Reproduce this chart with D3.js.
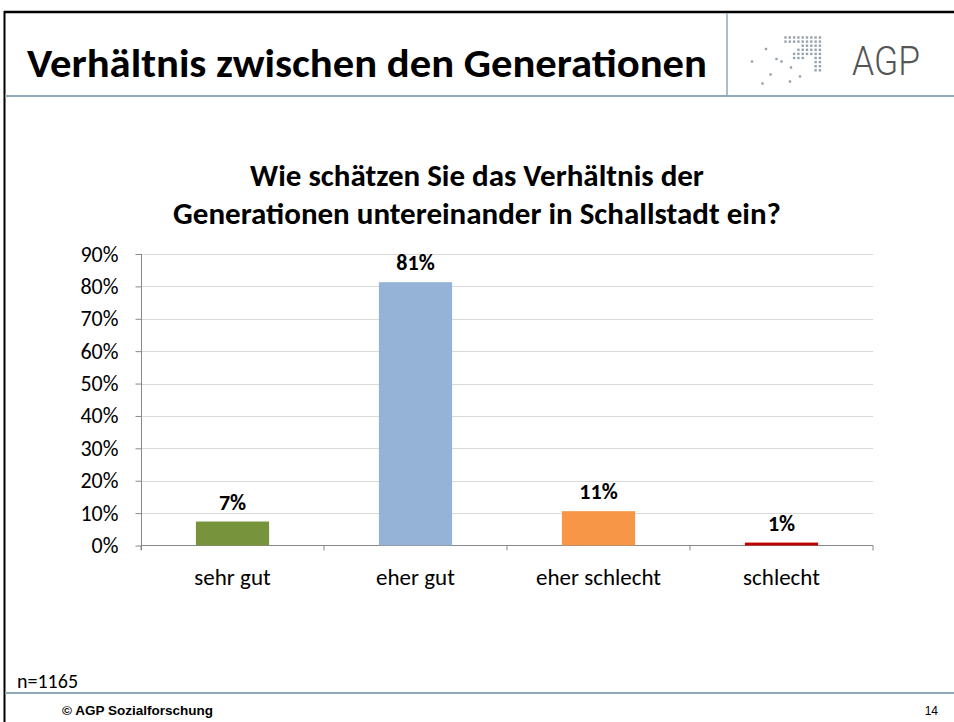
<!DOCTYPE html>
<html>
<head>
<meta charset="utf-8">
<script src="https://cdn.jsdelivr.net/npm/d3@7"></script>
<style>
  body { margin: 0; background: #fff; }
  svg { display: block; }
  .cal { font-family: Carlito, Calibri, Lato, sans-serif; }
</style>
</head>
<body>
<svg id="slide" width="954" height="722"></svg>
<script>
// chart data
var categories = ["sehr gut", "eher gut", "eher schlecht", "schlecht"];
var values = [7.4, 81.3, 10.6, 0.9];
var barColors = ["#77933C", "#95B3D7", "#F79646", "#C00000"];
var yTicks = [0, 10, 20, 30, 40, 50, 60, 70, 80, 90];

var slideTitle = "Verhältnis zwischen den Generationen";
var chartTitle = ["Wie schätzen Sie das Verhältnis der", "Generationen untereinander in Schallstadt ein?"];
var sampleNote = "n=1165";
var footerText = "© AGP Sozialforschung";
var pageNo = "14";

var svg = d3.select("#slide");

// --- slide frame ---
svg.append("line").attr("x1", 4).attr("x2", 954).attr("y1", 12).attr("y2", 12)
  .attr("stroke", "#000").attr("stroke-width", 2.5);
svg.append("line").attr("x1", 4.5).attr("x2", 4.5).attr("y1", 11).attr("y2", 722)
  .attr("stroke", "#000").attr("stroke-width", 2);
svg.append("line").attr("x1", 5).attr("x2", 954).attr("y1", 96).attr("y2", 96)
  .attr("stroke", "#8EA9BC").attr("stroke-width", 2);
svg.append("line").attr("x1", 727).attr("x2", 727).attr("y1", 13).attr("y2", 96)
  .attr("stroke", "#8EA9BC").attr("stroke-width", 1.5);
svg.append("line").attr("x1", 5).attr("x2", 954).attr("y1", 693).attr("y2", 693)
  .attr("stroke", "#8EA9BC").attr("stroke-width", 2);

svg.append("text").attr("class", "cal")
  .attr("x", 27).attr("y", 77)
  .attr("font-size", 40).attr("font-weight", "bold")
  .attr("textLength", 680).attr("lengthAdjust", "spacingAndGlyphs")
  .text(slideTitle);

// logo: dot grid + loose dots + AGP
var logoRows = ["111111111", "111111111", "000011111", "000111111", "001111111",
                "001110011", "000000011", "000000011", "000000011"];
var dots = [];
logoRows.forEach(function(row, r) {
  row.split("").forEach(function(ch, c) {
    if (ch === "1") dots.push([785.5 + c * 4.3, 37.5 + r * 4.1]);
  });
});
var loose = [[766, 49], [752, 61.5], [776.5, 59], [781.5, 61.5], [791, 67.5],
             [770.5, 74.5], [800, 76.5], [790, 81.5], [762.5, 83.5]];
svg.append("g").selectAll("rect").data(dots.concat(loose)).enter().append("rect")
  .attr("x", d => d[0] - 1.2).attr("y", d => d[1] - 1.2)
  .attr("width", 2.4).attr("height", 2.4).attr("fill", "#94A3AB");
svg.append("text")
  .attr("x", 852).attr("y", 75)
  .attr("font-family", "Roboto, 'DejaVu Sans', sans-serif")
  .attr("font-weight", 300).attr("font-size", 40).attr("fill", "#555")
  .attr("textLength", 68).attr("lengthAdjust", "spacingAndGlyphs")
  .text("AGP");

// --- chart ---
var x = d3.scaleBand().domain(categories).range([141, 873]).paddingInner(0.6).paddingOuter(0.3);
var xb = d3.scaleBand().domain(categories).range([141, 873]);
var y = d3.scaleLinear().domain([0, 90]).range([545.5, 254]);

svg.selectAll("text.ct").data(chartTitle).enter().append("text")
  .attr("class", "cal")
  .attr("x", 477).attr("y", (d, i) => 186 + i * 38)
  .attr("text-anchor", "middle").attr("font-size", 31).attr("font-weight", "bold")
  .text(d => d);

// gridlines
svg.append("g").selectAll("line").data(yTicks.slice(1)).enter().append("line")
  .attr("x1", 141).attr("x2", 873)
  .attr("y1", d => Math.round(y(d)) + 0.5).attr("y2", d => Math.round(y(d)) + 0.5)
  .attr("stroke", "#D9D9D9");

// y axis
var yAxis = svg.append("g").attr("transform", "translate(141.5,0)")
  .call(d3.axisLeft(y).tickValues(yTicks).tickSize(6).tickPadding(17)
    .tickFormat(d => d + "%"));
yAxis.select(".domain").attr("stroke", "#888").attr("d", "M0,254V550");
yAxis.selectAll(".tick line").attr("stroke", "#888");
yAxis.selectAll("text").attr("class", "cal").attr("font-size", 22).attr("fill", "#000")
  .attr("font-family", null);

// x axis
var xAxis = svg.append("g").attr("transform", "translate(0,545.5)")
  .call(d3.axisBottom(xb).tickSize(0).tickPadding(23));
xAxis.select(".domain").attr("stroke", "#888").attr("d", "M141,0H873");
xAxis.selectAll("text").attr("class", "cal").attr("font-size", 23).attr("fill", "#000")
  .attr("font-family", null);
xAxis.selectAll("line.sep").data(d3.range(categories.length + 1)).enter().append("line")
  .attr("x1", i => 141 + i * xb.bandwidth()).attr("x2", i => 141 + i * xb.bandwidth())
  .attr("y1", 0).attr("y2", 5).attr("stroke", "#888");

// bars
svg.selectAll("rect.bar").data(values).enter().append("rect")
  .attr("class", "bar")
  .attr("x", (d, i) => x(categories[i]))
  .attr("width", x.bandwidth())
  .attr("y", d => y(d))
  .attr("height", d => y(0) - y(d))
  .attr("fill", (d, i) => barColors[i]);

// data labels
var fmt = d3.format(".0%");
svg.selectAll("text.lbl").data(values).enter().append("text")
  .attr("class", "cal")
  .attr("x", (d, i) => x(categories[i]) + x.bandwidth() / 2)
  .attr("y", d => y(d) - 12)
  .attr("text-anchor", "middle").attr("font-size", 22).attr("font-weight", "bold")
  .text(d => fmt(d / 100));

// notes and footer
svg.append("text").attr("class", "cal").attr("x", 17).attr("y", 688)
  .attr("font-size", 20).text(sampleNote);
svg.append("text").attr("x", 62).attr("y", 715)
  .attr("font-family", "'Liberation Sans', Arial, sans-serif")
  .attr("font-size", 13.5).attr("font-weight", "bold").text(footerText);
svg.append("text").attr("x", 938).attr("y", 715).attr("text-anchor", "end")
  .attr("font-family", "'Liberation Sans', Arial, sans-serif")
  .attr("font-size", 12).text(pageNo);
</script>
</body>
</html>
